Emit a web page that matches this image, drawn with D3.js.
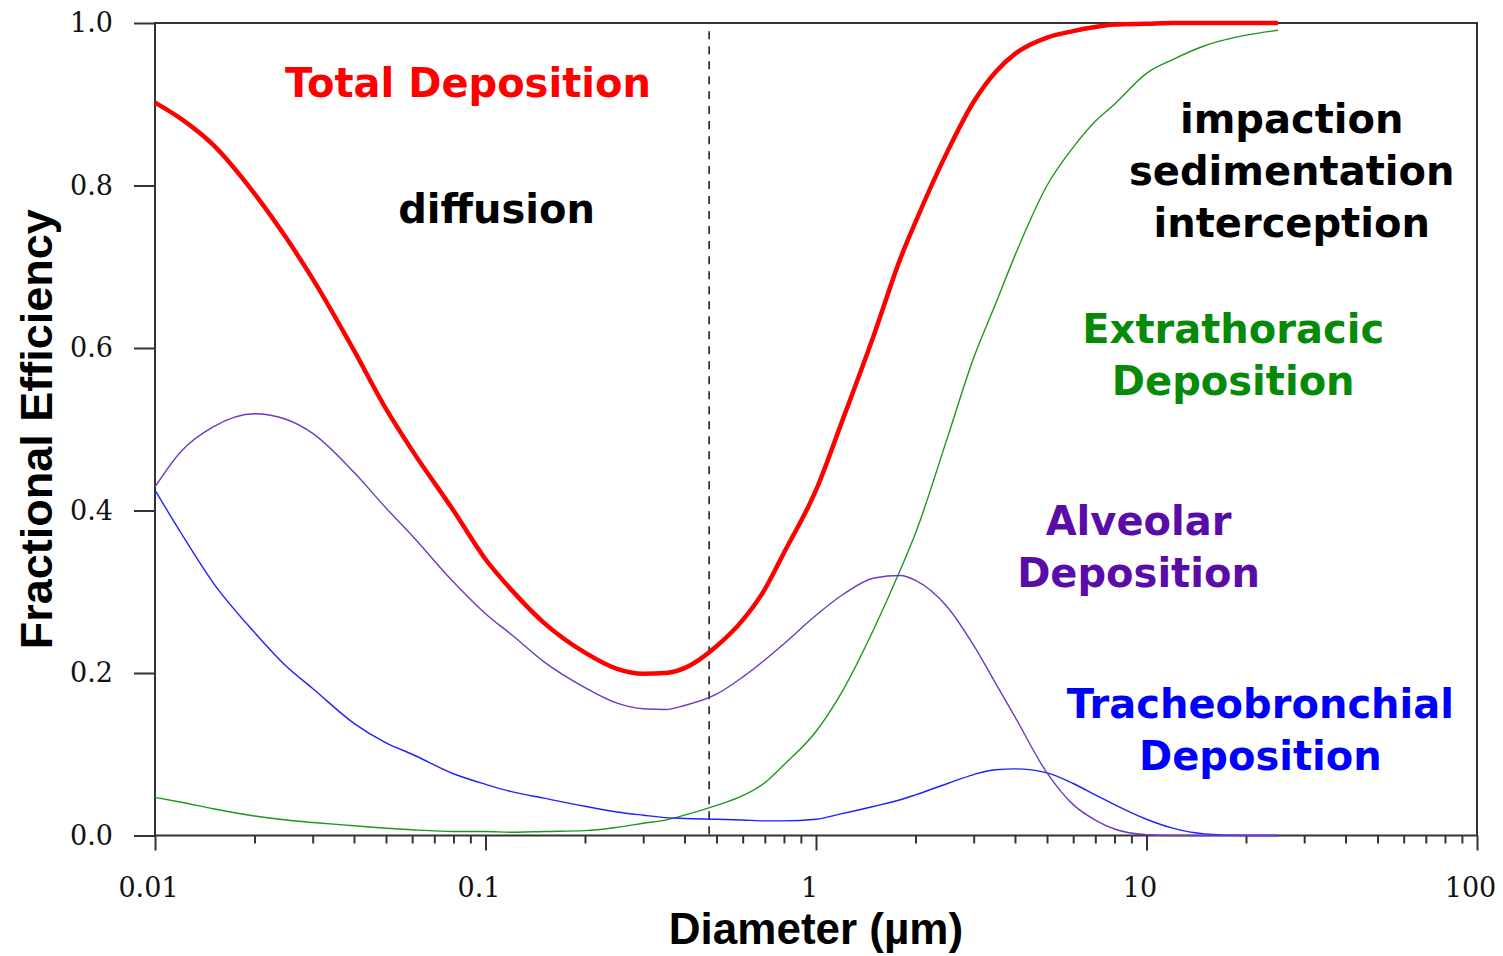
<!DOCTYPE html>
<html>
<head>
<meta charset="utf-8">
<script src="https://cdn.jsdelivr.net/npm/d3@7"></script>
<style>
  html, body { margin: 0; padding: 0; background: #fff; }
  svg { display: block; }
</style>
</head>
<body>
<svg id="chart" width="1503" height="956"></svg>
<script>
// Particle diameter grid (µm) shared by every deposition curve
const diameters = [0.01, 0.012, 0.015, 0.02, 0.025, 0.03, 0.04, 0.05, 0.06, 0.08,
  0.1, 0.12, 0.15, 0.2, 0.25, 0.3, 0.35, 0.4, 0.5, 0.6, 0.7, 0.8,
  1, 1.2, 1.5, 1.8, 2, 2.5, 3, 3.5, 4, 5, 6, 7, 8, 10, 12, 15, 20, 25];

// Fractional deposition efficiency per region
const totalDeposition = [0.902, 0.882, 0.850, 0.790, 0.735, 0.685, 0.597, 0.525, 0.474, 0.400,
  0.340, 0.302, 0.262, 0.225, 0.205, 0.199, 0.200, 0.206, 0.233, 0.265, 0.303, 0.348,
  0.425, 0.510, 0.617, 0.710, 0.755, 0.842, 0.903, 0.940, 0.962, 0.982, 0.990, 0.995, 0.998, 0.999, 1.0, 1.0, 1.0, 1.0];

const alveolar = [0.429, 0.473, 0.503, 0.519, 0.512, 0.495, 0.447, 0.403, 0.369, 0.312,
  0.273, 0.247, 0.214, 0.182, 0.163, 0.156, 0.155, 0.160, 0.174, 0.195, 0.216, 0.236,
  0.271, 0.296, 0.317, 0.320, 0.314, 0.281, 0.234, 0.187, 0.146, 0.077, 0.038, 0.019, 0.008, 0.001, 0, 0, 0, 0];

const tracheobronchial = [0.425, 0.372, 0.311, 0.250, 0.208, 0.181, 0.138, 0.114, 0.100, 0.076,
  0.063, 0.054, 0.046, 0.036, 0.029, 0.025, 0.022, 0.021, 0.020, 0.019, 0.018, 0.018,
  0.020, 0.027, 0.036, 0.044, 0.050, 0.064, 0.075, 0.081, 0.082, 0.077, 0.064, 0.050, 0.038, 0.020, 0.009, 0.002, 0, 0];

const extrathoracic = [0.047, 0.041, 0.033, 0.024, 0.019, 0.016, 0.012, 0.009, 0.007, 0.005,
  0.005, 0.004, 0.005, 0.006, 0.010, 0.015, 0.019, 0.025, 0.037, 0.049, 0.065, 0.087,
  0.128, 0.177, 0.255, 0.327, 0.372, 0.490, 0.588, 0.655, 0.714, 0.800, 0.847, 0.879, 0.900, 0.938, 0.955, 0.972, 0.985, 0.991];

// Axis ticks
const xMajorTicks = [0.01, 0.1, 1, 10, 100];
const xMajorLabels = ["0.01", "0.1", "1", "10", "100"];
const xMinorTicks = [
  0.02, 0.03, 0.04, 0.05, 0.06, 0.07, 0.08, 0.09,
  0.2, 0.3, 0.4, 0.5, 0.6, 0.7, 0.8, 0.9,
  2, 3, 4, 5, 6, 7, 8, 9,
  20, 30, 40, 50, 60, 70, 80, 90];
const yTicks = [0, 0.2, 0.4, 0.6, 0.8, 1.0];
const yTickLabels = ["0.0", "0.2", "0.4", "0.6", "0.8", "1.0"];

// Diffusion / impaction boundary (µm)
const boundaryDiameter = 0.475;

// Series styling and in-plot annotations
const series = [
  { name: "Extrathoracic", values: extrathoracic, color: "#1f961f", width: 1.4 },
  { name: "Tracheobronchial", values: tracheobronchial, color: "#2020ff", width: 1.4 },
  { name: "Alveolar", values: alveolar, color: "#7038c4", width: 1.4 },
  { name: "Total", values: totalDeposition, color: "#ff0000", width: 4.5 }
];

const annotations = [
  { lines: ["Total Deposition"], d: 0.0885, v: 0.909, color: "#ff0000" },
  { lines: ["diffusion"], d: 0.108, v: 0.754, color: "#000" },
  { lines: ["impaction", "sedimentation", "interception"], d: 27.5, v: 0.865, color: "#000" },
  { lines: ["Extrathoracic", "Deposition"], d: 18.3, v: 0.606, color: "#078a07" },
  { lines: ["Alveolar", "Deposition"], d: 9.46, v: 0.370, color: "#5a0ca8" },
  { lines: ["Tracheobronchial", "Deposition"], d: 22.1, v: 0.145, color: "#0000ff" }
];

const W = 1503, H = 956;
const margin = { top: 23, right: 26, bottom: 120.5, left: 155 };
const iw = W - margin.left - margin.right;
const ih = H - margin.top - margin.bottom;

const svg = d3.select("#chart");
const g = svg.append("g").attr("transform", `translate(${margin.left},${margin.top})`);

const x = d3.scaleLog().domain([0.01, 100]).range([0, iw]);
const y = d3.scaleLinear().domain([0, 1]).range([ih, 0]);

const axisColor = "#333";

// Minor x ticks
const xMinor = g.append("g")
  .attr("transform", `translate(0,${ih})`)
  .call(d3.axisBottom(x).tickValues(xMinorTicks).tickSize(8).tickFormat(""));
xMinor.select(".domain").remove();

// Major x ticks with labels
const xMajor = g.append("g")
  .attr("transform", `translate(0,${ih})`)
  .call(d3.axisBottom(x).tickValues(xMajorTicks).tickSize(15).tickPadding(27)
    .tickFormat((d, i) => xMajorLabels[i]));
xMajor.select(".domain").remove();
xMajor.selectAll("text").attr("dx", -7);

// Y axis
const yAxis = g.append("g")
  .call(d3.axisLeft(y).tickValues(yTicks).tickSize(21).tickPadding(21)
    .tickFormat((d, i) => yTickLabels[i]));
yAxis.select(".domain").remove();

[xMinor, xMajor, yAxis].forEach(a => {
  a.selectAll("line").attr("stroke", axisColor).attr("stroke-width", 2);
  a.selectAll("text")
    .attr("fill", "#111")
    .style("font-family", "'DejaVu Serif', serif")
    .style("font-size", "27px");
});

// Frame around the plot area
g.append("rect")
  .attr("x", 0).attr("y", 0).attr("width", iw).attr("height", ih)
  .attr("fill", "none").attr("stroke", axisColor).attr("stroke-width", 2);

// Boundary between diffusion and impaction regimes
g.append("line")
  .attr("x1", x(boundaryDiameter)).attr("x2", x(boundaryDiameter))
  .attr("y1", y(0.99)).attr("y2", y(0))
  .attr("stroke", "#222").attr("stroke-width", 1.6)
  .attr("stroke-dasharray", "8,7");

// Deposition curves
const line = d3.line()
  .x((d, i) => x(diameters[i]))
  .y(d => y(d))
  .curve(d3.curveMonotoneX);

g.selectAll("path.curve")
  .data(series)
  .join("path")
  .attr("class", "curve")
  .attr("d", s => line(s.values))
  .attr("fill", "none")
  .attr("stroke", s => s.color)
  .attr("stroke-width", s => s.width)
  .attr("stroke-linejoin", "round");

// Region labels
annotations.forEach(a => {
  const t = g.append("text")
    .attr("x", x(a.d))
    .attr("y", y(a.v))
    .attr("text-anchor", "middle")
    .attr("fill", a.color)
    .style("font-family", "'DejaVu Sans', sans-serif")
    .style("font-weight", "bold")
    .style("font-size", "40px");
  a.lines.forEach((l, i) => {
    t.append("tspan").attr("x", x(a.d)).attr("dy", i === 0 ? 0 : 52).text(l);
  });
});

// Axis titles
svg.append("text")
  .attr("x", margin.left + iw / 2)
  .attr("y", 944)
  .attr("text-anchor", "middle")
  .style("font-family", "'Liberation Sans', Arial, sans-serif")
  .style("font-weight", "bold")
  .style("font-size", "44px")
  .text("Diameter (µm)");

svg.append("text")
  .attr("transform", `translate(52,${margin.top + ih / 2}) rotate(-90)`)
  .attr("text-anchor", "middle")
  .style("font-family", "'Liberation Sans', Arial, sans-serif")
  .style("font-weight", "bold")
  .style("font-size", "45px")
  .text("Fractional Efficiency");
</script>
</body>
</html>
